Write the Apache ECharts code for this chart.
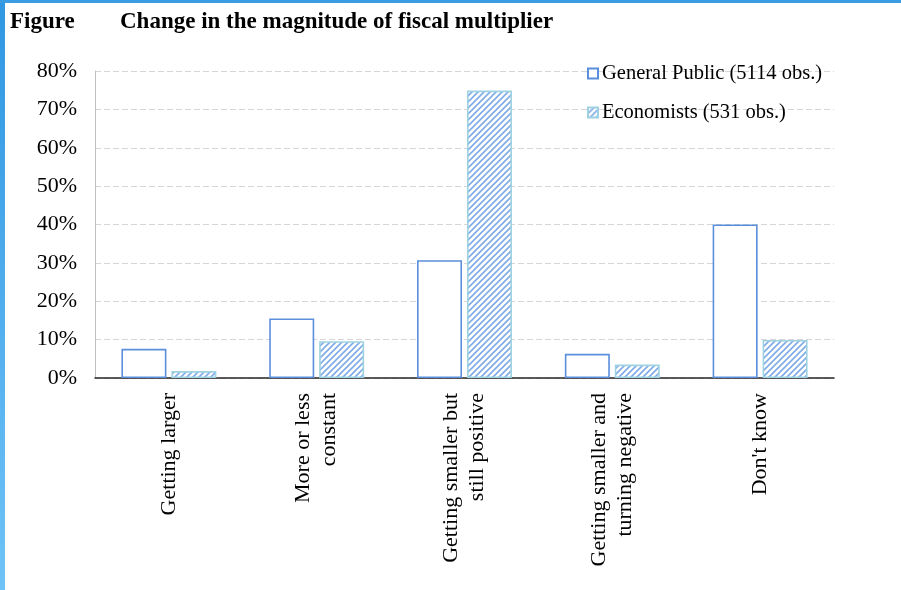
<!DOCTYPE html>
<html>
<head>
<meta charset="utf-8">
<script src="https://cdn.jsdelivr.net/npm/echarts@6/dist/echarts.min.js"></script>
<style>
  html, body { margin: 0; padding: 0; background: #fff; }
  #chart { width: 901px; height: 590px; }
</style>
</head>
<body>
<div id="chart"></div>
<script>
// Survey answers: expected change in the magnitude of the fiscal multiplier
const categories = [
  'Getting larger',
  'More or less\nconstant',
  'Getting smaller but\nstill positive',
  'Getting smaller and\nturning negative',
  "Don't know"
];
const seriesNames = ['General Public (5114 obs.)', 'Economists (531 obs.)'];
const generalPublic = [7.6, 15.5, 30.7, 6.3, 40.0];
const economists = [1.8, 9.6, 74.9, 3.5, 9.9];
const yTicks = [0, 10, 20, 30, 40, 50, 60, 70, 80];

// Diagonal hatch tile for the economists' bars
function hatchTile() {
  const s = 6;
  const c = document.createElement('canvas');
  c.width = s; c.height = s;
  const g = c.getContext('2d');
  g.fillStyle = '#ffffff';
  g.fillRect(0, 0, s, s);
  g.strokeStyle = '#7eaae6';
  g.lineWidth = 1.6;
  g.beginPath();
  g.moveTo(-1, s + 1); g.lineTo(s + 1, -1);
  g.moveTo(-1, 1); g.lineTo(1, -1);
  g.moveTo(s - 1, s + 1); g.lineTo(s + 1, s - 1);
  g.stroke();
  return c;
}

const serif = '"Liberation Serif", "Times New Roman", serif';
const chart = echarts.init(document.getElementById('chart'), null, { renderer: 'canvas' });

chart.setOption({
  animation: false,
  backgroundColor: '#ffffff',
  textStyle: { fontFamily: serif, color: '#000' },
  graphic: [
    {
      type: 'rect', left: 0, top: 0,
      shape: { width: 5, height: 590 },
      style: {
        fill: new echarts.graphic.LinearGradient(0, 0, 0, 1, [
          { offset: 0, color: '#2f97e2' },
          { offset: 1, color: '#6fc3f7' }
        ])
      },
      z: 10
    },
    {
      type: 'rect', left: 0, top: 0,
      shape: { width: 901, height: 3 },
      style: { fill: '#3a9de4' },
      z: 10
    }
  ],
  title: [
    {
      text: 'Figure', left: 10, top: 11, padding: 0,
      textStyle: { fontFamily: serif, fontSize: 23, fontWeight: 'bold', color: '#000' }
    },
    {
      text: 'Change in the magnitude of fiscal multiplier', left: 120, top: 11, padding: 0,
      textStyle: { fontFamily: serif, fontSize: 23, fontWeight: 'bold', color: '#000' }
    }
  ],
  legend: {
    orient: 'vertical',
    left: 587, top: 63, padding: 0,
    itemWidth: 10, itemHeight: 10,
    itemGap: 18,
    icon: 'rect',
    textStyle: { fontFamily: serif, fontSize: 20.5, color: '#000', lineHeight: 20, padding: [0, 0, 0, -1] },
    data: seriesNames
  },
  grid: { left: 95, right: 67, top: 71, bottom: 212, containLabel: false },
  xAxis: {
    type: 'category',
    data: categories,
    axisLine: { show: true, lineStyle: { color: '#262626', width: 1.5 } },
    axisTick: { show: false },
    axisLabel: {
      rotate: 90,
      interval: 0,
      margin: 15,
      fontFamily: serif,
      fontSize: 22,
      lineHeight: 26,
      padding: [16, 0, 0, 0],
      color: '#000'
    }
  },
  yAxis: {
    type: 'value',
    min: 0, max: 80, interval: 10,
    axisLine: { show: true, lineStyle: { color: '#bfbfbf', width: 1 } },
    axisTick: { show: false },
    splitLine: { show: true, lineStyle: { color: '#d6d6d6', type: [6, 3], width: 1 } },
    axisLabel: {
      margin: 18,
      fontFamily: serif,
      fontSize: 22,
      color: '#000',
      formatter: v => (yTicks.indexOf(v) >= 0 ? v + '%' : '')
    }
  },
  series: [
    {
      name: seriesNames[0],
      type: 'bar',
      data: generalPublic,
      barWidth: 45,
      barGap: '11%',
      itemStyle: { color: '#ffffff', borderColor: '#5b8fdc', borderWidth: 1.6 }
    },
    {
      name: seriesNames[1],
      type: 'bar',
      data: economists,
      barWidth: 45,
      itemStyle: {
        color: { image: hatchTile(), repeat: 'repeat' },
        borderColor: '#9ed2e2', borderWidth: 1.6
      }
    }
  ]
});
</script>
</body>
</html>
